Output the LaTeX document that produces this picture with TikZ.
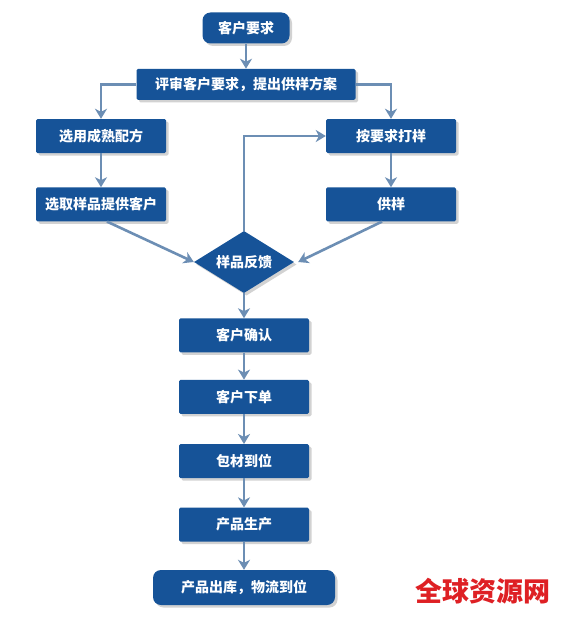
\documentclass[tikz,border=0pt]{standalone}
\usepackage{fontspec}
\newfontfamily\cjk{Noto Sans CJK SC}
\usetikzlibrary{arrows.meta,positioning,shapes.geometric,shadows}
\definecolor{FlowBlue}{RGB}{22,83,152}
\definecolor{LinkBlue}{RGB}{108,142,180}
\definecolor{MarkRed}{RGB}{222,32,36}

\begin{document}
\begin{tikzpicture}[x=1pt, y=-1pt,
    box/.style={fill=FlowBlue, rounded corners=1.5pt, minimum width=130pt, minimum height=34pt,
      inner sep=0pt, text=white, font=\cjk\bfseries\fontsize{14}{16}\selectfont,
      drop shadow={shadow xshift=2.5pt, shadow yshift=-2.5pt, opacity=0.35}},
    endbox/.style={box, rounded corners=8pt},
    choice/.style={box, diamond, aspect=1.6, rounded corners=0pt, minimum width=100pt, minimum height=62pt},
    arr/.style={-{Stealth[length=10pt, width=12pt, inset=3pt]}, line width=2.6pt, LinkBlue}
  ]
    \useasboundingbox[fill=white] (0,0) rectangle (566,618);
    \node[endbox, minimum width=87pt, minimum height=31pt] at (246,28) (req) {客户要求};
    \node[box, minimum width=219pt, minimum height=31pt, below=25pt of req] (review) {评审客户要求，提出供样方案};
    \node[box] at (101,136) (mature) {选用成熟配方};
    \node[box, below=34pt of mature] (pick) {选取样品提供客户};
    \node[box] at (391,136) (custom) {按要求打样};
    \node[box, below=34pt of custom] (supply) {供样};
    \node[choice] at (244,262) (fb) {样品反馈};
    \node[box, below=25pt of fb] (confirm) {客户确认};
    \node[box, below=27pt of confirm] (order) {客户下单};
    \node[box, below=30pt of order] (pack) {包材到位};
    \node[box, below=29pt of pack] (prod) {产品生产};
    \node[endbox, minimum width=182pt, minimum height=35pt, below=28pt of prod] (ship) {产品出库，物流到位};
    \node[text=MarkRed, font=\cjk\bfseries\fontsize{27}{30}\selectfont] at (483,591) (mark) {全球资源网};
    \draw[arr] (req) -- (review);
    \draw[arr] (review.west) -| (mature.north);
    \draw[arr] (review.east) -| (custom.north);
    \draw[arr] (mature) -- (pick);
    \draw[arr] (custom) -- (supply);
    \draw[arr] ([xshift=6pt]pick.south) -- (fb.west);
    \draw[arr] ([xshift=-9pt]supply.south) -- ([xshift=4pt]fb.east);
    \draw[arr] (fb.north) |- (custom.west);
    \draw[arr] (fb) -- (confirm);
    \draw[arr] (confirm) -- (order);
    \draw[arr] (order) -- (pack);
    \draw[arr] (pack) -- (prod);
    \draw[arr] (prod) -- (ship);
  \end{tikzpicture}
\end{document}
